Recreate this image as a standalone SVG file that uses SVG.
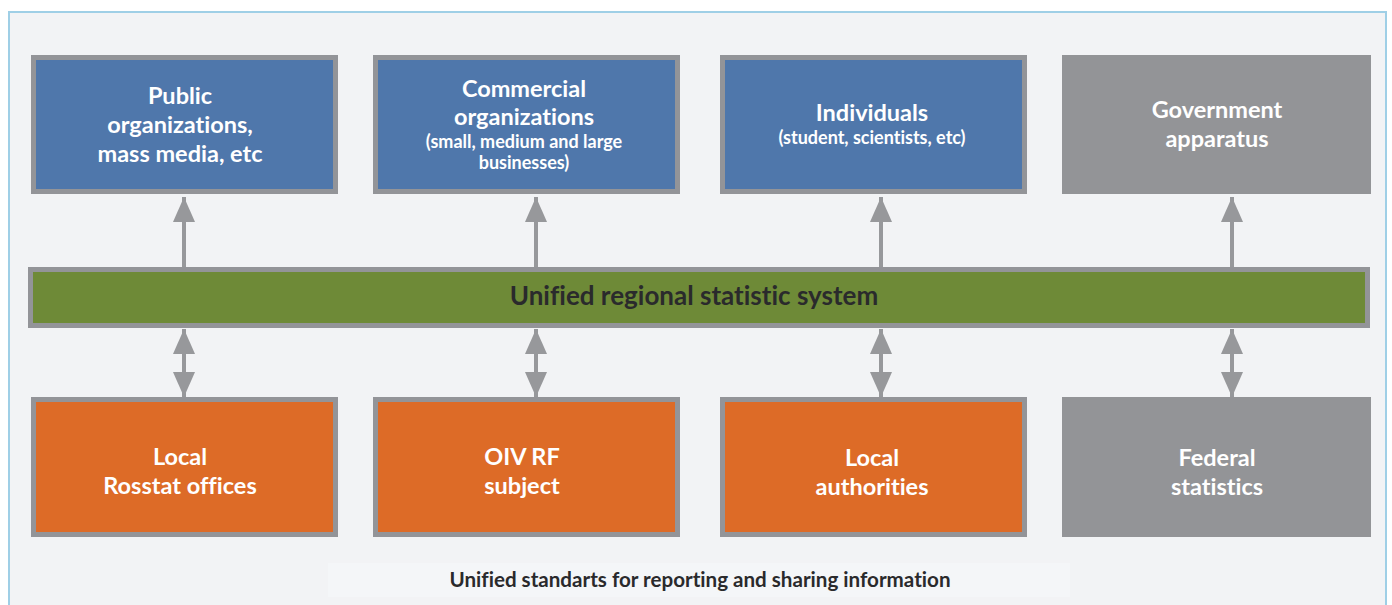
<svg xmlns="http://www.w3.org/2000/svg" width="1392" height="605" viewBox="0 0 1392 605">
<defs>
<style>
.blue{fill:#4f77ab;stroke:#939498;stroke-width:5}
.orange{fill:#dd6b27;stroke:#939498;stroke-width:5}
.grey{fill:#939497;stroke:#939497;stroke-width:5}
.green{fill:#6e8a37;stroke:#939498;stroke-width:5}
.t{font-family:Lato,"Open Sans",sans-serif;font-weight:bold;fill:#ffffff;text-anchor:middle;font-size:23.5px;font-variant-ligatures:none;font-feature-settings:"liga" 0,"dlig" 0}
.s{font-size:18px}
.d{fill:#2a2a2c}
.conn{stroke:#97989b;stroke-width:4;fill:none}
</style>
<marker id="ah" markerUnits="userSpaceOnUse" markerWidth="26" markerHeight="24" refX="25" refY="12" orient="auto-start-reverse" viewBox="0 0 26 24">
<path d="M0,1 L25,12 L0,23 Z" fill="#97989b"/>
</marker>
</defs>
<rect x="0" y="0" width="1392" height="605" fill="#ffffff"/>
<rect x="9" y="12" width="1377" height="620" fill="#f2f3f5" stroke="#9fcfe6" stroke-width="2"/>
<rect x="328" y="563" width="742" height="34" fill="#f4f6f8"/>

<g id="connectors">
<line class="conn" x1="184" y1="267" x2="184" y2="197" marker-end="url(#ah)"/>
<line class="conn" x1="536" y1="267" x2="536" y2="197" marker-end="url(#ah)"/>
<line class="conn" x1="881" y1="267" x2="881" y2="197" marker-end="url(#ah)"/>
<line class="conn" x1="1232" y1="267" x2="1232" y2="197" marker-end="url(#ah)"/>
<line class="conn" x1="184" y1="329" x2="184" y2="397" marker-start="url(#ah)" marker-end="url(#ah)"/>
<line class="conn" x1="536" y1="329" x2="536" y2="397" marker-start="url(#ah)" marker-end="url(#ah)"/>
<line class="conn" x1="881" y1="329" x2="881" y2="397" marker-start="url(#ah)" marker-end="url(#ah)"/>
<line class="conn" x1="1232" y1="329" x2="1232" y2="397" marker-start="url(#ah)" marker-end="url(#ah)"/>
</g>

<g id="public">
<rect class="blue" x="33.5" y="57.5" width="302" height="134"/>
<text class="t" x="180" y="104">Public</text>
<text class="t" x="180" y="133">organizations,</text>
<text class="t" x="180" y="162">mass media, etc</text>
</g>
<g id="commercial">
<rect class="blue" x="375.5" y="57.5" width="302" height="134"/>
<text class="t" x="524" y="97">Commercial</text>
<text class="t" x="524" y="125">organizations</text>
<text class="t s" x="524" y="148">(small, medium and large</text>
<text class="t s" x="524" y="169">businesses)</text>
</g>
<g id="individuals">
<rect class="blue" x="722.5" y="57.5" width="302" height="134"/>
<text class="t" x="872" y="121">Individuals</text>
<text class="t s" x="872" y="144">(student, scientists, etc)</text>
</g>
<g id="government">
<rect class="grey" x="1064.5" y="57.5" width="304" height="134"/>
<text class="t" x="1217" y="118">Government</text>
<text class="t" x="1217" y="147">apparatus</text>
</g>

<g id="unified">
<rect class="green" x="30.5" y="269.5" width="1337" height="56"/>
<text class="t d" x="694" y="305" style="font-size:26px">Unified regional statistic system</text>
</g>

<g id="rosstat">
<rect class="orange" x="33.5" y="399.5" width="302" height="135"/>
<text class="t" x="180" y="465">Local</text>
<text class="t" x="180" y="494">Rosstat offices</text>
</g>
<g id="oiv">
<rect class="orange" x="375.5" y="399.5" width="302" height="135"/>
<text class="t" x="522" y="465">OIV RF</text>
<text class="t" x="522" y="494">subject</text>
</g>
<g id="local-authorities">
<rect class="orange" x="722.5" y="399.5" width="302" height="135"/>
<text class="t" x="872" y="466">Local</text>
<text class="t" x="872" y="495">authorities</text>
</g>
<g id="federal">
<rect class="grey" x="1064.5" y="399.5" width="304" height="135"/>
<text class="t" x="1217" y="466">Federal</text>
<text class="t" x="1217" y="495">statistics</text>
</g>

<g id="footer">
<text class="t d" x="700" y="587" style="font-size:20.6px">Unified standarts for reporting and sharing information</text>
</g>
</svg>
